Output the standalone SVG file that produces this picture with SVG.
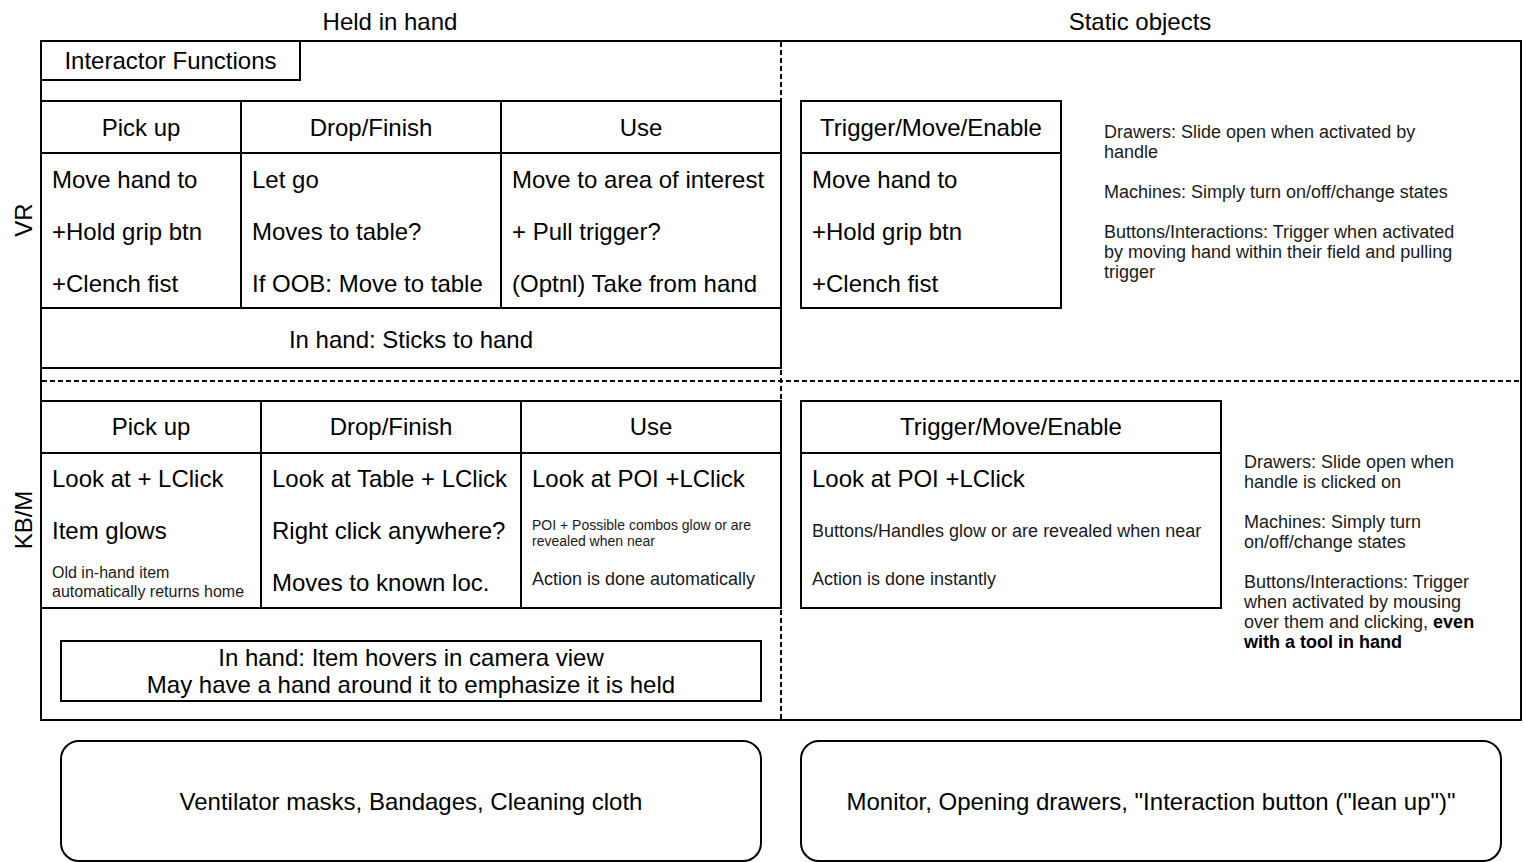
<svg xmlns="http://www.w3.org/2000/svg" width="1524" height="862" viewBox="0 0 1524 862">
<style>
  text { font-family: "Liberation Sans", Arial, sans-serif; fill: #000; }
  .t24 { font-size: 24px; }
  .t18 { font-size: 18px; fill: #1a1a1a; }
  .t16 { font-size: 16px; fill: #1a1a1a; }
  .t14 { font-size: 14px; fill: #1a1a1a; }
  .mid { text-anchor: middle; }
  .box { fill: #fff; stroke: #000; stroke-width: 2; }
  .ln { stroke: #000; stroke-width: 2; fill: none; }
  .dash { stroke: #000; stroke-width: 2; fill: none; stroke-dasharray: 5 3; }
  .b { font-weight: bold; fill: #000; }
</style>
<rect width="1524" height="862" fill="#fff"/>

<g id="column-titles">
  <text class="t24 mid" x="390" y="30">Held in hand</text>
  <text class="t24 mid" x="1140" y="30">Static objects</text>
</g>

<g id="frame">
  <rect class="box" x="41" y="41" width="1480" height="679"/>
</g>

<g id="connectors">
  <line class="dash" x1="781" y1="42" x2="781" y2="719"/>
  <line class="dash" x1="42" y1="381" x2="1520" y2="381"/>
</g>

<g id="row-labels">
  <text class="t24 mid" transform="translate(32,220) rotate(-90)">VR</text>
  <text class="t24 mid" transform="translate(32,520) rotate(-90)">KB/M</text>
</g>

<g id="interactor-functions">
  <rect class="box" x="41" y="41" width="259" height="39"/>
  <text class="t24 mid" x="170.5" y="69">Interactor Functions</text>
</g>

<!-- VR held in hand -->
<g id="vr-pickup">
  <rect class="box" x="41" y="101" width="200" height="52"/>
  <rect class="box" x="41" y="153" width="200" height="155"/>
  <text class="t24 mid" x="141" y="136">Pick up</text>
  <text class="t24" x="52" y="188">Move hand to</text>
  <text class="t24" x="52" y="240">+Hold grip btn</text>
  <text class="t24" x="52" y="292">+Clench fist</text>
</g>
<g id="vr-drop">
  <rect class="box" x="241" y="101" width="260" height="52"/>
  <rect class="box" x="241" y="153" width="260" height="155"/>
  <text class="t24 mid" x="371" y="136">Drop/Finish</text>
  <text class="t24" x="252" y="188">Let go</text>
  <text class="t24" x="252" y="240">Moves to table?</text>
  <text class="t24" x="252" y="292">If OOB: Move to table</text>
</g>
<g id="vr-use">
  <rect class="box" x="501" y="101" width="280" height="52"/>
  <rect class="box" x="501" y="153" width="280" height="155"/>
  <text class="t24 mid" x="641" y="136">Use</text>
  <text class="t24" x="512" y="188">Move to area of interest</text>
  <text class="t24" x="512" y="240">+ Pull trigger?</text>
  <text class="t24" x="512" y="292">(Optnl) Take from hand</text>
</g>
<g id="vr-inhand">
  <rect class="box" x="41" y="308" width="740" height="60"/>
  <text class="t24 mid" x="411" y="348">In hand: Sticks to hand</text>
</g>

<!-- VR static -->
<g id="vr-trigger">
  <rect class="box" x="801" y="101" width="260" height="52"/>
  <rect class="box" x="801" y="153" width="260" height="155"/>
  <text class="t24 mid" x="931" y="136">Trigger/Move/Enable</text>
  <text class="t24" x="812" y="188">Move hand to</text>
  <text class="t24" x="812" y="240">+Hold grip btn</text>
  <text class="t24" x="812" y="292">+Clench fist</text>
</g>
<g id="vr-static-notes">
  <text class="t18" x="1104" y="138">Drawers: Slide open when activated by</text>
  <text class="t18" x="1104" y="158">handle</text>
  <text class="t18" x="1104" y="198">Machines: Simply turn on/off/change states</text>
  <text class="t18" x="1104" y="238">Buttons/Interactions: Trigger when activated</text>
  <text class="t18" x="1104" y="258">by moving hand within their field and pulling</text>
  <text class="t18" x="1104" y="278">trigger</text>
</g>

<!-- KB/M held in hand -->
<g id="kb-pickup">
  <rect class="box" x="41" y="401" width="220" height="52"/>
  <rect class="box" x="41" y="453" width="220" height="155"/>
  <text class="t24 mid" x="151" y="435">Pick up</text>
  <text class="t24" x="52" y="487">Look at + LClick</text>
  <text class="t24" x="52" y="539">Item glows</text>
  <text class="t16" x="52" y="578">Old in-hand item</text>
  <text class="t16" x="52" y="597">automatically returns home</text>
</g>
<g id="kb-drop">
  <rect class="box" x="261" y="401" width="260" height="52"/>
  <rect class="box" x="261" y="453" width="260" height="155"/>
  <text class="t24 mid" x="391" y="435">Drop/Finish</text>
  <text class="t24" x="272" y="487">Look at Table + LClick</text>
  <text class="t24" x="272" y="539">Right click anywhere?</text>
  <text class="t24" x="272" y="591">Moves to known loc.</text>
</g>
<g id="kb-use">
  <rect class="box" x="521" y="401" width="260" height="52"/>
  <rect class="box" x="521" y="453" width="260" height="155"/>
  <text class="t24 mid" x="651" y="435">Use</text>
  <text class="t24" x="532" y="487">Look at POI +LClick</text>
  <text class="t14" x="532" y="530">POI + Possible combos glow or are</text>
  <text class="t14" x="532" y="546">revealed when near</text>
  <text class="t18" x="532" y="585">Action is done automatically</text>
</g>
<g id="kb-inhand">
  <rect class="box" x="61" y="641" width="700" height="60"/>
  <text class="t24 mid" x="411" y="666">In hand: Item hovers in camera view</text>
  <text class="t24 mid" x="411" y="693">May have a hand around it to emphasize it is held</text>
</g>

<!-- KB/M static -->
<g id="kb-trigger">
  <rect class="box" x="801" y="401" width="420" height="52"/>
  <rect class="box" x="801" y="453" width="420" height="155"/>
  <text class="t24 mid" x="1011" y="435">Trigger/Move/Enable</text>
  <text class="t24" x="812" y="487">Look at POI +LClick</text>
  <text class="t18" x="812" y="537">Buttons/Handles glow or are revealed when near</text>
  <text class="t18" x="812" y="585">Action is done instantly</text>
</g>
<g id="kb-static-notes">
  <text class="t18" x="1244" y="468">Drawers: Slide open when</text>
  <text class="t18" x="1244" y="488">handle is clicked on</text>
  <text class="t18" x="1244" y="528">Machines: Simply turn</text>
  <text class="t18" x="1244" y="548">on/off/change states</text>
  <text class="t18" x="1244" y="588">Buttons/Interactions: Trigger</text>
  <text class="t18" x="1244" y="608">when activated by mousing</text>
  <text class="t18" x="1244" y="628">over them and clicking, <tspan class="b">even</tspan></text>
  <text class="t18 b" x="1244" y="648">with a tool in hand</text>
</g>

<!-- examples -->
<g id="held-examples">
  <rect class="box" x="61" y="741" width="700" height="120" rx="18" ry="18"/>
  <text class="t24 mid" x="411" y="810">Ventilator masks, Bandages, Cleaning cloth</text>
</g>
<g id="static-examples">
  <rect class="box" x="801" y="741" width="700" height="120" rx="18" ry="18"/>
  <text class="t24 mid" x="1151" y="810">Monitor, Opening drawers, "Interaction button ("lean up")"</text>
</g>
</svg>
